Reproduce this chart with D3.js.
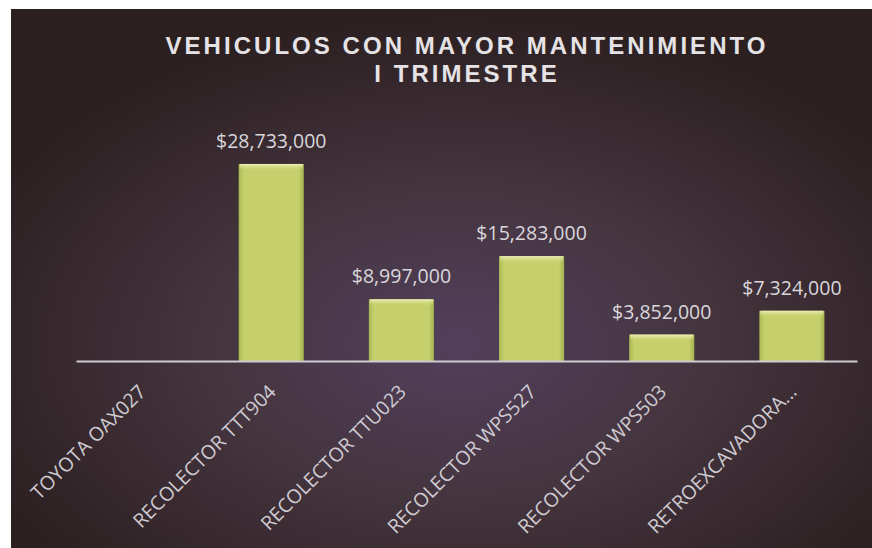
<!DOCTYPE html>
<html><head><meta charset="utf-8">
<script src="https://cdn.jsdelivr.net/npm/d3@7"></script>
<style>
html,body{margin:0;padding:0;background:#fff;}
svg{display:block;}
</style></head>
<body>
<svg id="chart" width="872" height="548"></svg>
<script>
const categories = ["TOYOTA OAX027","RECOLECTOR TTT904","RECOLECTOR TTU023","RECOLECTOR WPS527","RECOLECTOR WPS503","RETROEXCAVADORA..."];
const values = [0, 28733000, 8997000, 15283000, 3852000, 7324000];
const titleLines = ["VEHICULOS CON MAYOR MANTENIMIENTO", "I TRIMESTRE"];
const yDomain = [0, 35000000];

const svg = d3.select("#chart");
const W = 872, H = 548;
const defs = svg.append("defs");

const bg = defs.append("radialGradient").attr("id","bg")
  .attr("cx","0.52").attr("cy","0.62").attr("r","0.62")
  .attr("fx","0.52").attr("fy","0.62");
bg.append("stop").attr("offset","0").attr("stop-color","#52405d");
bg.append("stop").attr("offset","0.45").attr("stop-color","#45353f");
bg.append("stop").attr("offset","1").attr("stop-color","#2b1f20");

const barG = defs.append("linearGradient").attr("id","barG").attr("x1","0").attr("x2","1").attr("y1","0").attr("y2","0");
barG.append("stop").attr("offset","0").attr("stop-color","#a9b852");
barG.append("stop").attr("offset","0.08").attr("stop-color","#c5d06c");
barG.append("stop").attr("offset","0.92").attr("stop-color","#c5d06c");
barG.append("stop").attr("offset","1").attr("stop-color","#a2b04e");

const topG = defs.append("linearGradient").attr("id","topG").attr("x1","0").attr("x2","0").attr("y1","0").attr("y2","1");
topG.append("stop").attr("offset","0").attr("stop-color","#f0f0bc");
topG.append("stop").attr("offset","1").attr("stop-color","#c5d06c").attr("stop-opacity","0");

// background panel
svg.append("rect").attr("x",11).attr("y",9).attr("width",W-11).attr("height",H-9).attr("fill","url(#bg)");

const x = d3.scaleBand().domain(categories).range([76, 857]).paddingInner(0.5).paddingOuter(0.25);
const y = d3.scaleLinear().domain(yDomain).range([361, 121]);

// title
const title = svg.append("text").attr("text-anchor","middle")
  .attr("font-family","'Liberation Sans Narrow', 'Liberation Sans', Arial, sans-serif").attr("font-weight","bold")
  .attr("font-size",24).attr("fill","#e6e3e6");
const tspans = titleLines.map((t,i)=> title.append("tspan").attr("x",467).attr("y",54 + i*28).text(t));
// fit first line to the reference width with letter spacing
const w0 = tspans[0].node().getComputedTextLength();
const ls = Math.max(0, (603 - w0) / titleLines[0].length);
title.attr("letter-spacing", ls.toFixed(2));

// bars
const data = categories.map((c,i)=>({c, v: values[i]}));
const bars = svg.append("g");
bars.selectAll("rect.bar").data(data.filter(d=>d.v>0)).join("rect")
  .attr("class","bar")
  .attr("x", d=>x(d.c)).attr("y", d=>y(d.v))
  .attr("width", x.bandwidth()).attr("height", d=>y(0)-y(d.v))
  .attr("fill","url(#barG)");
bars.selectAll("rect.top").data(data.filter(d=>d.v>0)).join("rect")
  .attr("class","top")
  .attr("x", d=>x(d.c)+1).attr("y", d=>y(d.v))
  .attr("width", x.bandwidth()-2).attr("height", 7)
  .attr("fill","url(#topG)");

// value labels
const fmt = d3.format("$,");
svg.append("g").selectAll("text").data(data.filter(d=>d.v>0)).join("text")
  .attr("x", d=>x(d.c)+x.bandwidth()/2).attr("y", d=>y(d.v)-16)
  .attr("text-anchor","middle")
  .attr("font-family","'Open Sans', sans-serif").attr("font-size",19.5)
  .attr("fill","#d9d6dc")
  .text(d=>fmt(d.v));

// axis
const xAxis = d3.axisBottom(x).tickSize(0).tickPadding(0);
const ax = svg.append("g").attr("transform","translate(0,361)").call(xAxis);
ax.select(".domain").attr("stroke","#cfcbd2").attr("stroke-width",2);
ax.selectAll(".tick text")
  .attr("font-family","'Open Sans', sans-serif").attr("font-size",19.5)
  .attr("fill","#cfcbd2")
  .attr("text-anchor","end")
  .attr("dy",0).attr("y",0)
  .attr("transform","translate(6,32) rotate(-45)");
</script>
</body></html>
